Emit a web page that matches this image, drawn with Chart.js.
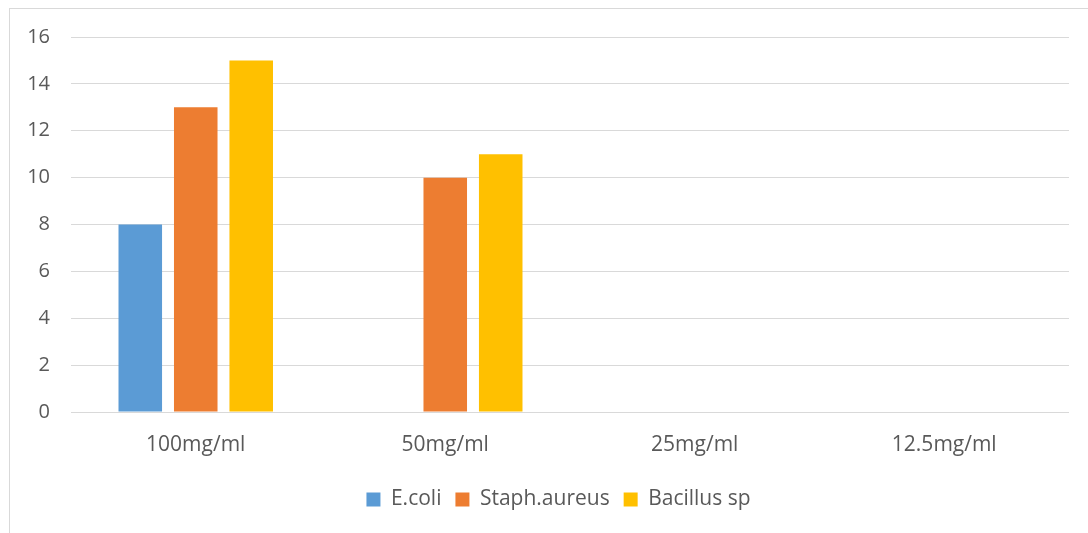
<!DOCTYPE html>
<html>
<head>
<meta charset="utf-8">
<script src="https://cdn.jsdelivr.net/npm/chart.js@4.4.1/dist/chart.umd.min.js"></script>
<style>
  html, body { margin: 0; padding: 0; background: #ffffff; }
  #wrap { position: relative; width: 1088px; height: 533px; }
</style>
</head>
<body>
<div id="wrap"><canvas id="chart" width="1088" height="533"></canvas></div>
<script>
// Concentrations tested
const categories = ['100mg/ml', '50mg/ml', '25mg/ml', '12.5mg/ml'];

// Zone of inhibition per organism
const ecoli = [8, 0, 0, 0];
const staphAureus = [13, 10, 0, 0];
const bacillusSp = [15, 11, 0, 0];

// Value axis ticks
const yTicks = [0, 2, 4, 6, 8, 10, 12, 14, 16];

const textColor = '#595959';
const gridColor = '#d9d9d9';
const fontFamily = '"Open Sans", "Liberation Sans", sans-serif';

// Thin frame around the chart like an embedded office chart
const framePlugin = {
  id: 'frame',
  beforeDraw(chart) {
    const ctx = chart.ctx;
    ctx.save();
    ctx.fillStyle = '#ffffff';
    ctx.fillRect(0, 0, chart.width, chart.height);
    ctx.strokeStyle = gridColor;
    ctx.lineWidth = 1;
    ctx.strokeRect(9.5, 8.5, chart.width + 50, chart.height + 50);
    ctx.restore();
  }
};

// Centre the legend under the plot area rather than the whole canvas
const legendShiftPlugin = {
  id: 'legendShift',
  afterLayout(chart) {
    if (chart.legend) {
      chart.legend.left += 48;
    }
  }
};

new Chart(document.getElementById('chart'), {
  type: 'bar',
  data: {
    labels: categories,
    datasets: [
      { label: 'E.coli', data: ecoli, backgroundColor: '#5b9bd5' },
      { label: 'Staph.aureus', data: staphAureus, backgroundColor: '#ed7d31' },
      { label: 'Bacillus sp', data: bacillusSp, backgroundColor: '#ffc000' }
    ]
  },
  plugins: [framePlugin, legendShiftPlugin],
  options: {
    responsive: false,
    animation: false,
    devicePixelRatio: 1,
    categoryPercentage: 0.667,
    barPercentage: 0.785,
    layout: { padding: { top: 37, right: 19, left: 0, bottom: 13 } },
    plugins: {
      tooltip: { enabled: false },
      legend: {
        position: 'bottom',
        labels: {
          boxWidth: 14,
          boxHeight: 14,
          padding: 14,
          color: textColor,
          font: { family: fontFamily, size: 21 }
        }
      }
    },
    scales: {
      x: {
        grid: { display: false },
        border: { display: false },
        ticks: {
          color: textColor,
          padding: 12,
          font: { family: fontFamily, size: 21 }
        },
        afterFit(scale) { scale.height = 63; }
      },
      y: {
        min: 0,
        max: 16,
        afterBuildTicks(scale) { scale.ticks = yTicks.map(v => ({ value: v })); },
        grid: { color: gridColor, lineWidth: 1, drawTicks: false },
        border: { display: false },
        ticks: {
          color: textColor,
          padding: 21,
          font: { family: fontFamily, size: 20 }
        },
        afterFit(scale) { scale.width = 71; }
      }
    }
  }
});
</script>
</body>
</html>
